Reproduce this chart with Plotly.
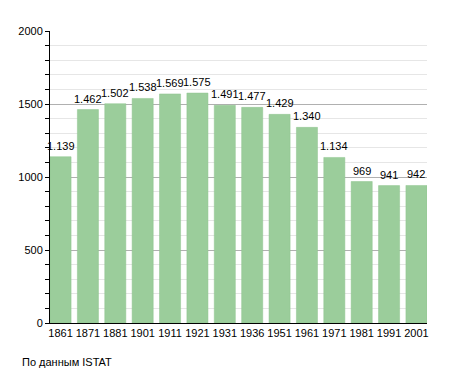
import plotly.graph_objects as go

years = ["1861", "1871", "1881", "1901", "1911", "1921", "1931", "1936", "1951", "1961", "1971", "1981", "1991", "2001"]
population = [1139, 1462, 1502, 1538, 1569, 1575, 1491, 1477, 1429, 1340, 1134, 969, 941, 942]
y_ticks = [0, 500, 1000, 1500, 2000]

def fmt(v):
    return f"{v:,}".replace(",", ".")

xs = list(range(len(years)))
bar_w = 0.77
FONT = "Liberation Sans, Arial, sans-serif"

fig = go.Figure()
fig.add_trace(go.Bar(
    x=xs, y=population, width=bar_w,
    marker=dict(color="#9bcd9b", line=dict(color="#8fc48f", width=0.5)),
    hoverinfo="skip",
))

annotations = [dict(
    x=x, y=v, xref="x", yref="y", text=fmt(v), showarrow=False,
    xanchor="center", yanchor="bottom", yshift=3,
    font=dict(size=11, color="black", family=FONT),
) for x, v in zip(xs, population)]
annotations.append(dict(
    text="По данным ISTAT", xref="paper", yref="paper",
    x=-30 / 377, y=-39 / 292, xanchor="left", yanchor="middle",
    showarrow=False, font=dict(size=11, color="black", family=FONT),
))

fig.update_layout(
    width=455, height=373,
    margin=dict(l=50, r=28, t=31, b=50, autoexpand=False),
    paper_bgcolor="white", plot_bgcolor="white",
    font=dict(family=FONT, size=11, color="black"),
    showlegend=False,
    xaxis=dict(
        range=[-bar_w / 2, len(years) - 1 + bar_w / 2],
        tickvals=xs, ticktext=years, ticks="",
        showline=True, linecolor="black", linewidth=1,
        showgrid=False, zeroline=False, fixedrange=True,
        tickfont=dict(size=11), automargin=False,
    ),
    yaxis=dict(
        range=[0, 2000], tickvals=y_ticks, ticktext=[str(v) for v in y_ticks],
        ticks="outside", ticklen=4, tickcolor="black",
        showline=True, linecolor="black", linewidth=1,
        showgrid=True, gridcolor="#b0b0b0", gridwidth=1,
        zeroline=False, automargin=False,
        minor=dict(dtick=100, showgrid=True, gridcolor="#e6e6e6", ticks="outside", ticklen=4, tickcolor="black"),
        tickfont=dict(size=11),
    ),
    annotations=annotations,
    bargap=0,
)

fig.write_html("out.html", config={"displayModeBar": False, "staticPlot": True},
               post_script="document.body.style.margin='0';document.body.style.overflow='hidden';")
